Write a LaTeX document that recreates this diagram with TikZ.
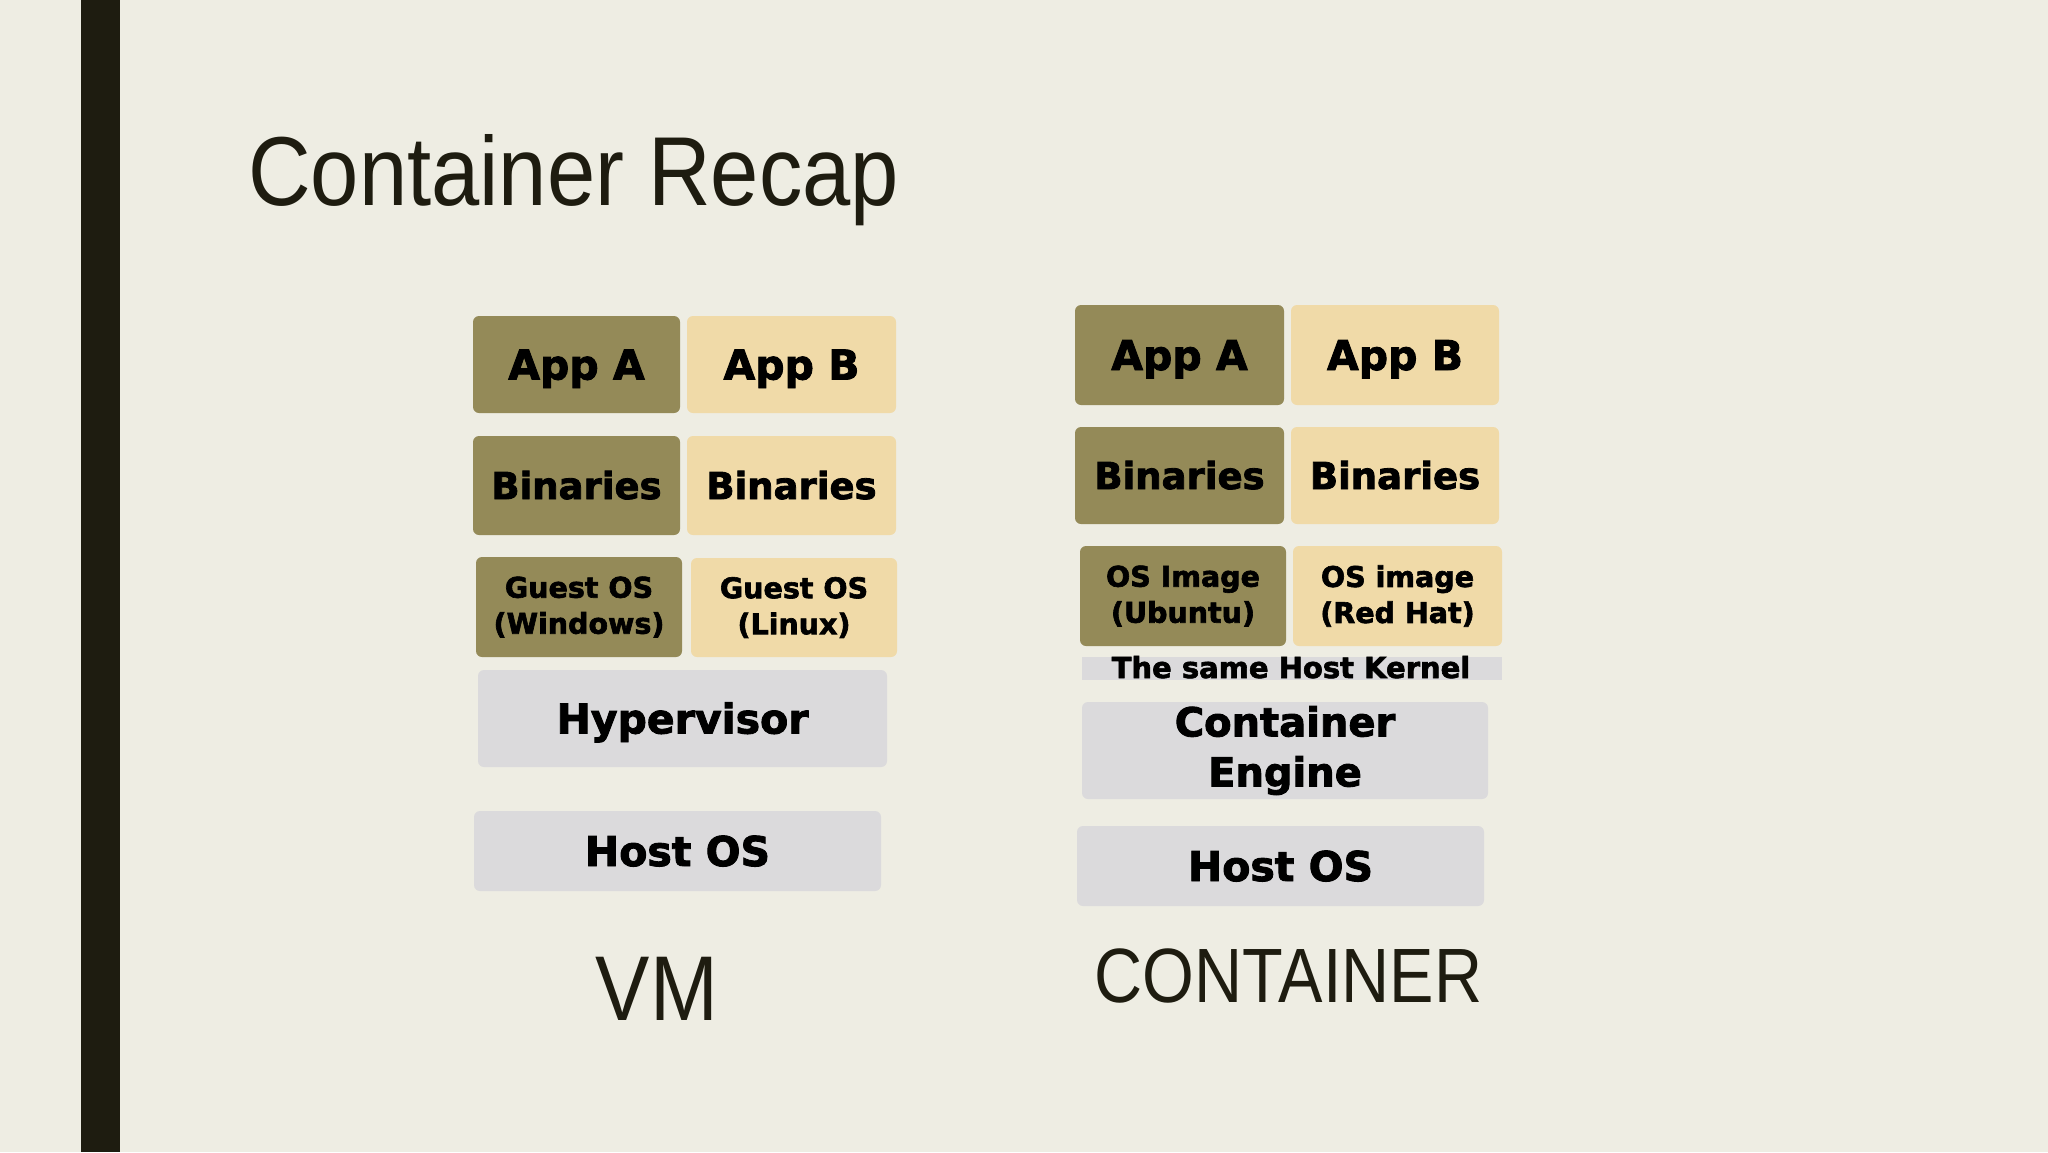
\documentclass[tikz,border=0pt]{standalone}
\usepackage{fontspec}
\newfontfamily\boxfont{DejaVu Sans Bold}[FakeBold=2.2]
\newfontfamily\titlefont{Liberation Sans}[FakeStretch=0.885]
\newfontfamily\ctfont{Liberation Sans}[FakeStretch=0.865]
\definecolor{bgc}{RGB}{238,237,227}
\definecolor{barc}{RGB}{30,28,16}
\definecolor{olive}{RGB}{148,138,88}
\definecolor{tan}{RGB}{240,218,168}
\definecolor{greyc}{RGB}{219,218,220}
\begin{document}
\begin{tikzpicture}[x=1pt,y=-1pt,
  blk/.style={rectangle,rounded corners=6pt,inner sep=0pt,text=black,font=\boxfont},
  dark/.style={blk,fill=olive},
  light/.style={blk,fill=tan},
  grey/.style={blk,fill=greyc},
  big/.style={font=\boxfont\fontsize{41}{48}\selectfont,text height=30pt,text depth=0pt},
  mid/.style={font=\boxfont\fontsize{37}{44}\selectfont,text height=27pt,text depth=0pt},
  small/.style={font=\boxfont\fontsize{28.5}{36}\selectfont,align=center},
  label/.style={inner sep=0pt,anchor=base,text=barc}
]
\path[fill=bgc] (0,0) rectangle (2048,1152);
\useasboundingbox (0,0) rectangle (2048,1152);
\path[fill=barc] (81,0) rectangle (120,1152);
\node[label,anchor=base west,font=\titlefont\fontsize{98}{110}\selectfont] (title) at (248,205) {Container Recap};
% VM
\node[dark,big,minimum width=207,minimum height=97] (vAppA) at (576.5,364.5) {App A};
\node[light,big,minimum width=209,minimum height=97] (vAppB) at (791.5,364.5) {App B};
\node[dark,mid,minimum width=207,minimum height=99] (vBinA) at (576.5,485.5) {Binaries};
\node[light,mid,minimum width=209,minimum height=99] (vBinB) at (791.5,485.5) {Binaries};
\node[dark,small,minimum width=206,minimum height=100] (vGuestA) at (579,607) {Guest OS\\(Windows)};
\node[light,small,minimum width=206,minimum height=99] (vGuestB) at (794,607.5) {Guest OS\\(Linux)};
\node[grey,big,minimum width=409,minimum height=97] (vHyp) at (682.5,718.5) {Hypervisor};
\node[grey,big,minimum width=407,minimum height=80] (vHost) at (677.5,851) {Host OS};
\node[label,font=\titlefont\fontsize{92}{100}\selectfont] (vmlbl) at (657,1020) {VM};
% Container
\node[dark,big,minimum width=209,minimum height=100] (cAppA) at (1179.5,355) {App A};
\node[light,big,minimum width=208,minimum height=100] (cAppB) at (1395,355) {App B};
\node[dark,mid,minimum width=209,minimum height=97] (cBinA) at (1179.5,475.5) {Binaries};
\node[light,mid,minimum width=208,minimum height=97] (cBinB) at (1395,475.5) {Binaries};
\node[dark,small,minimum width=206,minimum height=100] (cOSA) at (1183,596) {OS Image\\(Ubuntu)};
\node[light,small,minimum width=209,minimum height=100] (cOSB) at (1397.5,596) {OS image\\(Red Hat)};
\node[rectangle,fill=greyc,inner sep=0pt,minimum width=420,minimum height=23] (kbar) at (1292,668.5) {};
\node[label,font=\boxfont\fontsize{29}{34}\selectfont,text=black] (ktext) at (1291,678) {The same Host Kernel};
\node[grey,align=center,font=\boxfont\fontsize{40}{50}\selectfont,minimum width=406,minimum height=97] (cEng) at (1285,750.5) {Container\\Engine};
\node[grey,big,minimum width=407,minimum height=80] (cHost) at (1280.5,866) {Host OS};
\node[label,font=\ctfont\fontsize{77}{90}\selectfont] (ctlbl) at (1288.5,1002) {CONTAINER};
\end{tikzpicture}
\end{document}
